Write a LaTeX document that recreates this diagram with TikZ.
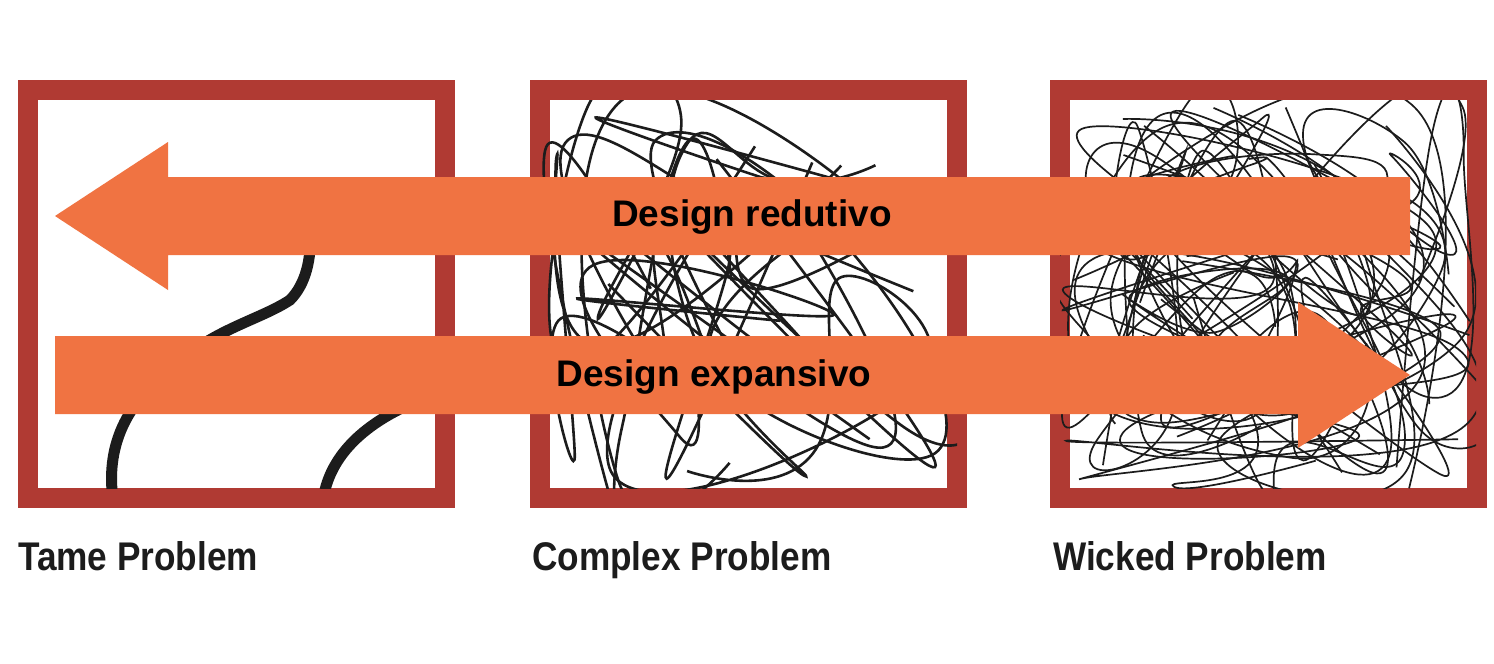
\documentclass[tikz,border=0pt]{standalone}
\usepackage{fontspec}
\setmainfont{Liberation Sans}
\definecolor{frame}{HTML}{B03A33}
\definecolor{arr}{HTML}{F07342}
\definecolor{ink}{HTML}{1C1C1C}
\begin{document}
\begin{tikzpicture}[x=1pt,y=-1pt,
  box/.style={draw=frame,line width=20pt,fill=white},
  lab/.style={anchor=base west,font=\fontsize{40}{44}\selectfont\bfseries,text=ink,inner sep=0,xscale=0.88},
  atext/.style={font=\fontsize{37}{42}\selectfont\bfseries,text=black},
  scr/.style={ink,line width=2.6pt}]
\useasboundingbox (0,0) rectangle (1494,664);
% frames
\foreach \x in {18,530,1050}{
  \draw[box] (\x+10,90) rectangle (\x+427,498);
}
% tame scribbles
\begin{scope}
\clip (38,100) rectangle (445,488);
\draw[ink,line width=11pt] (112,490) .. controls (108,440) and (130,400) .. (170,370)
  .. controls (210,330) and (260,320) .. (290,300) .. controls (305,285) and (312,260) .. (310,230);
\draw[ink,line width=11pt] (325,490) .. controls (335,450) and (370,420) .. (420,400);
\end{scope}
% complex
\pgfmathsetseed{7}
\begin{scope}
\clip (540,100) rectangle (957,488);
\foreach \i in {1,...,12}{
  \draw[scr] plot[smooth,tension=0.9,domain=1:6,samples=6] ({545+rnd*407},{100+rnd*390});
}
\end{scope}
% wicked
\begin{scope}
\clip (1060,100) rectangle (1476,488);
\foreach \i in {1,...,30}{
  \draw[scr,line width=1.7pt] plot[smooth,tension=0.9,domain=1:6,samples=6] ({1062+rnd*412},{100+rnd*390});
}
\end{scope}
% arrows
\fill[arr] (1410,177) -- (168,177) -- (168,142) -- (55,216) -- (168,290) -- (168,255) -- (1410,255) -- cycle;
\fill[arr] (55,336) -- (1298,336) -- (1298,302) -- (1410,375) -- (1298,448) -- (1298,414) -- (55,414) -- cycle;
\node[atext] (t1) at (752,217) {Design redutivo};
\node[atext] (t2) at (714,377) {Design expansivo};
% labels
\node[lab] (l1) at (18,570) {Tame Problem};
\node[lab] (l2) at (532,570) {Complex Problem};
\node[lab] (l3) at (1053,570) {Wicked Problem};
\end{tikzpicture}
\end{document}
